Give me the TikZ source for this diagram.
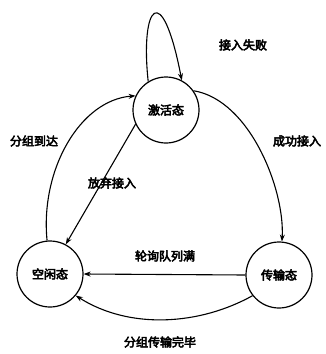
\documentclass[tikz,border=0pt]{standalone}
\usepackage{fontspec}
\newfontfamily\cjk{Noto Sans CJK SC}[FakeBold=4]
\usetikzlibrary{arrows.meta}
\begin{document}
\begin{tikzpicture}[x=1pt,y=-1pt,
  state/.style={draw,circle,line width=1.2pt,minimum size=66pt,inner sep=0pt,font=\cjk\fontsize{12}{12}\selectfont},
  lbl/.style={font=\cjk\fontsize{12}{12}\selectfont,inner sep=1pt},
  conn/.style={line width=1.1pt,-{Stealth[length=7pt,width=5pt]}}]
\useasboundingbox (0,0) rectangle (325,354);
\node[state] (act) at (166,110) {激活态};
\node[state] (idle) at (50,274) {空闲态};
\node[state] (trans) at (279,275) {传输态};
\draw[conn] (act.122) .. controls (140,5) and (162,-22) .. (act.62);
\node[lbl] (l1) at (243,45) {接入失败};
\draw[conn] (idle.95) .. controls (40,170) and (80,100) .. (act.155);
\node[lbl] (l2) at (34,141) {分组到达};
\draw[conn] (act.35) .. controls (250,100) and (285,190) .. (trans.85);
\node[lbl] (l3) at (297,141) {成功接入};
\draw[conn] (act.205) -- (idle.62);
\node[lbl] (l4) at (112,183) {放弃接入};
\draw[conn] (trans.180) -- (idle.0);
\node[lbl] (l5) at (165,256) {轮询队列满};
\draw[conn] (trans.218) .. controls (200,325) and (130,330) .. (idle.-40);
\node[lbl] (l6) at (160,342) {分组传输完毕};
\end{tikzpicture}
\end{document}
